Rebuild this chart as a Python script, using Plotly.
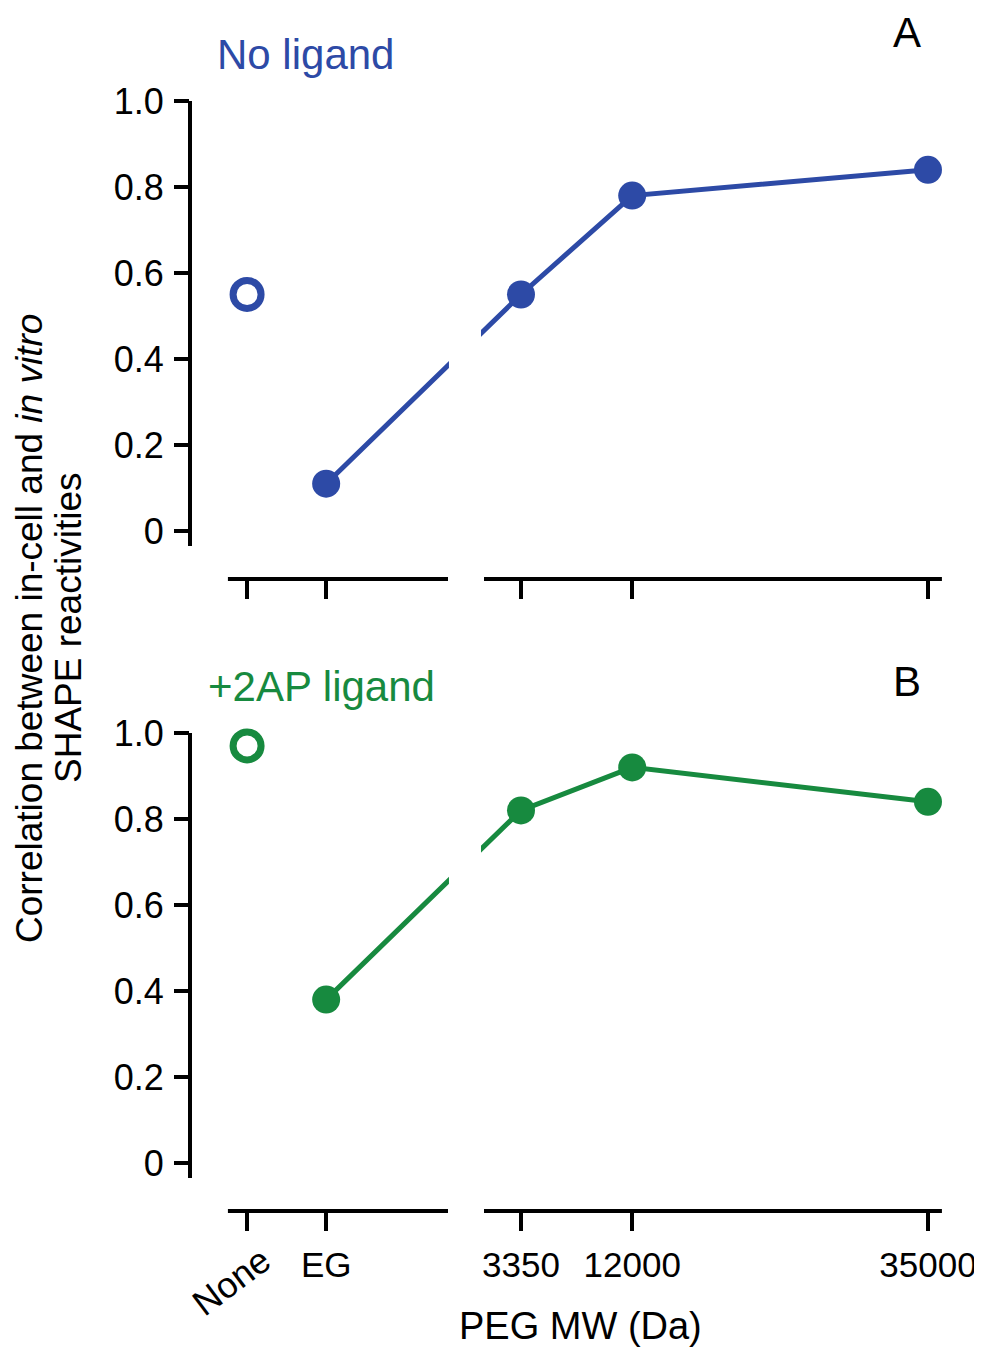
import plotly.graph_objects as go

# ---------------- data ----------------
categories = ["None", "EG", "3350", "12000", "35000"]
# position of each category on the broken x axis (PEG MW in Da for PEG samples;
# "None" and "EG" sit on the separate left segment)
x_positions = [-17950, -11800, 3350, 12000, 35000]
no_ligand = [0.55, 0.11, 0.55, 0.78, 0.84]
ligand_2ap = [0.97, 0.38, 0.82, 0.92, 0.84]
y_tickvals = [0, 0.2, 0.4, 0.6, 0.8, 1.0]
y_ticktext = ["0", "0.2", "0.4", "0.6", "0.8", "1.0"]

# ---------------- style ----------------
BLUE = "#2d4aa6"
GREEN = "#178a3f"
FONT = "Liberation Sans, Arial, Helvetica, sans-serif"
OFF = 8  # page body margin
FIG_W, FIG_H = 982 - OFF, 1359 - 2 * OFF
PLOT_L, PLOT_R = 190 - OFF, 955 - OFF
X_RANGE = [-22389, 37102]
Y_RANGE = [-0.1116, 1.0953]
PANELS = [  # (top px, bottom px) in screen pixels
    (60, 579),
    (692, 1211),
]
SEG1 = (-19440, -2325)
SEG2 = (474, 36085)
GAP = (-2250, 240)


def px_x(p):
    return (p - OFF - PLOT_L) / (PLOT_R - PLOT_L)


def px_y(p):
    return 1 - (p - OFF) / FIG_H


fig = go.Figure()

series = [(no_ligand, BLUE), (ligand_2ap, GREEN)]
shapes = []
for i, ((vals, col), (top, bot)) in enumerate(zip(series, PANELS)):
    xa = "x" if i == 0 else "x2"
    ya = "y" if i == 0 else "y2"
    fig.add_trace(go.Scatter(
        x=[x_positions[0]], y=[vals[0]], xaxis=xa, yaxis=ya, mode="markers",
        marker=dict(symbol="circle-open", size=28, color=col, line=dict(width=7, color=col)),
        showlegend=False, hoverinfo="skip"))
    fig.add_trace(go.Scatter(
        x=x_positions[1:], y=vals[1:], xaxis=xa, yaxis=ya, mode="lines+markers",
        line=dict(color=col, width=5),
        marker=dict(symbol="circle", size=28, color=col),
        showlegend=False, hoverinfo="skip"))
    # y axis line
    shapes.append(dict(type="line", xref="paper", yref=ya, x0=0, x1=0, y0=-0.035, y1=1.0,
                       line=dict(color="black", width=4), layer="above"))
    # broken x axis
    for s0, s1 in (SEG1, SEG2):
        shapes.append(dict(type="line", xref=xa, yref="paper", x0=s0, x1=s1,
                           y0=px_y(bot), y1=px_y(bot),
                           line=dict(color="black", width=4), layer="above"))
    # gap in the connecting line at the axis break
    shapes.append(dict(type="rect", xref=xa, yref=ya, x0=GAP[0], x1=GAP[1], y0=0, y1=1.0,
                       fillcolor="white", line=dict(width=0), layer="above"))

ticktext_x = ["" if c == "None" else c for c in categories]

axis_common_x = dict(range=X_RANGE, domain=[0, 1], tickmode="array", tickvals=x_positions,
                     ticks="outside", ticklen=19, tickwidth=4, tickcolor="black",
                     showgrid=False, zeroline=False, showline=False,
                     tickfont=dict(family=FONT, size=35, color="black"))
axis_common_y = dict(range=Y_RANGE, tickmode="array", tickvals=y_tickvals, ticktext=y_ticktext,
                     ticks="outside", ticklen=15, tickwidth=4, tickcolor="black",
                     showgrid=False, zeroline=False, showline=False, ticklabelstandoff=3,
                     tickfont=dict(family=FONT, size=36, color="black"))

annotations = [
    dict(text="No ligand", x=px_x(305), y=px_y(54), font=dict(size=42, color=BLUE)),
    dict(text="A", x=px_x(907), y=px_y(33), font=dict(size=42, color="black")),
    dict(text="+2AP ligand", x=px_x(321), y=px_y(686), font=dict(size=42, color=GREEN)),
    dict(text="B", x=px_x(907), y=px_y(681), font=dict(size=42, color="black")),
    dict(text="PEG MW (Da)", x=px_x(580), y=px_y(1326), font=dict(size=38, color="black")),
    dict(text=categories[0], x=px_x(231), y=px_y(1281), textangle=-37,
         font=dict(size=36, color="black")),
    dict(text="Correlation between in-cell and <i>in vitro</i>",
         x=px_x(30), y=px_y(629), textangle=-90, font=dict(size=37, color="black")),
    dict(text="SHAPE reactivities",
         x=px_x(68), y=px_y(628), textangle=-90, font=dict(size=37, color="black")),
]
for a in annotations:
    a.update(xref="paper", yref="paper", xanchor="center", yanchor="middle", showarrow=False)
    a["font"]["family"] = FONT

fig.update_layout(
    width=FIG_W, height=FIG_H,
    margin=dict(l=PLOT_L, r=FIG_W - PLOT_R, t=0, b=0),
    paper_bgcolor="white", plot_bgcolor="white",
    font=dict(family=FONT, color="black"),
    xaxis=dict(anchor="y", showticklabels=False, **axis_common_x),
    xaxis2=dict(anchor="y2", showticklabels=True, ticktext=ticktext_x, ticklabelstandoff=4,
                **axis_common_x),
    yaxis=dict(anchor="x", domain=[px_y(PANELS[0][1]), px_y(PANELS[0][0])], **axis_common_y),
    yaxis2=dict(anchor="x2", domain=[px_y(PANELS[1][1]), px_y(PANELS[1][0])], **axis_common_y),
    shapes=shapes,
    annotations=annotations,
    showlegend=False,
)

fig.write_html("out.html")
